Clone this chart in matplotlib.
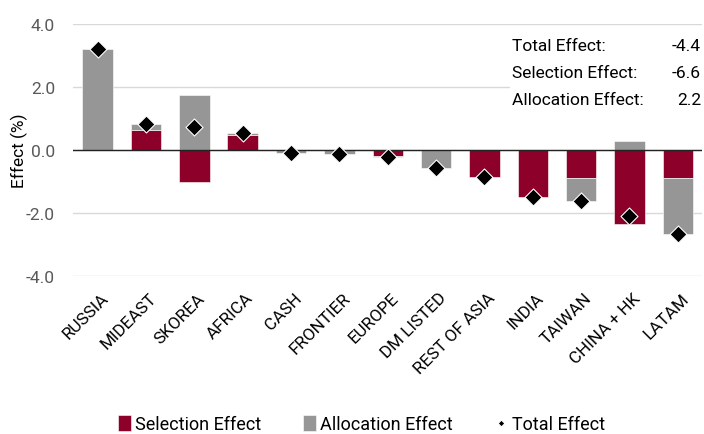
import numpy as np
import matplotlib.pyplot as plt
import matplotlib.transforms as mtransforms

# --- data ---
regions = ["RUSSIA", "MIDEAST", "SKOREA", "AFRICA", "CASH", "FRONTIER", "EUROPE",
           "DM LISTED", "REST OF ASIA", "INDIA", "TAIWAN", "CHINA + HK", "LATAM"]
selection = [0.0, 0.64, -1.02, 0.48, 0.0, 0.0, -0.19, 0.0, -0.87, -1.48, -0.90, -2.36, -0.90]
allocation = [3.20, 0.17, 1.75, 0.06, -0.08, -0.14, -0.02, -0.58, 0.0, 0.0, -0.71, 0.28, -1.78]
total = [3.20, 0.81, 0.73, 0.54, -0.08, -0.14, -0.21, -0.58, -0.87, -1.48, -1.61, -2.08, -2.68]
summary_labels = ["Total Effect:", "Selection Effect:", "Allocation Effect:"]
summary_values = ["-4.4", "-6.6", "2.2"]

SEL_COLOR = "#8c0029"
ALLOC_COLOR = "#969696"

plt.rcParams['font.family'] = ['Roboto', 'DejaVu Sans']

fig = plt.figure(figsize=(7.04, 4.35), dpi=100)
ax = fig.add_axes([73 / 704, (435 - 277) / 435, (702 - 73) / 704, 252 / 435])

x = np.arange(len(regions))
sel = np.array(selection)
alloc = np.array(allocation)

# stack allocation on top of selection when both share a sign
base = np.where(np.sign(alloc) == np.sign(sel), sel, 0.0)

b1 = ax.bar(x, sel, width=0.63, color=SEL_COLOR, edgecolor="white", linewidth=0.4,
            label="Selection Effect", zorder=2)
b2 = ax.bar(x, alloc, width=0.63, bottom=base, color=ALLOC_COLOR, edgecolor="white",
            linewidth=0.4, label="Allocation Effect", zorder=2)
sc = ax.scatter(x, total, marker="D", s=75, color="black", edgecolor="white",
                linewidth=0.8, label="Total Effect", zorder=4)

ax.axhline(0, color="#222222", linewidth=1.0, zorder=3)

ax.set_ylim(-4, 4)
ax.set_xlim(-0.51, 12.5)
ax.set_yticks([-4, -2, 0, 2, 4])
ax.set_yticklabels([f"{v:.1f}" for v in [-4, -2, 0, 2, 4]])
ax.grid(axis="y", color="#d9d9d9", linewidth=1.0, zorder=0)
ax.set_axisbelow(True)
for s in ax.spines.values():
    s.set_visible(False)
ax.tick_params(axis="y", length=0, labelsize=12.5, labelcolor="#595959", pad=13)
ax.tick_params(axis="x", length=0, pad=10)
ax.set_xticks(x)
ax.set_xticklabels(regions, rotation=45, ha="right", rotation_mode="anchor",
                   fontsize=12.3, color="black")
shift = mtransforms.ScaledTranslation(3 / 100, 0, fig.dpi_scale_trans)
for lbl in ax.get_xticklabels():
    lbl.set_transform(lbl.get_transform() + shift)
ax.set_ylabel("Effect (%)", fontsize=12.5, color="black")
ax.yaxis.set_label_coords(-0.072, 0.5)

# summary box
ax.add_patch(plt.Rectangle(((510 - 73) / 629, 1 - (112 - 25) / 252), (704 - 510) / 629,
                           (112 - 36) / 252, transform=ax.transAxes, clip_on=False,
                           facecolor="white", edgecolor="none", zorder=5))
for i, (lab, val) in enumerate(zip(summary_labels, summary_values)):
    yy = 1 - (47 - 25 + i * 26.7) / 252
    ax.text((512 - 73) / 629, yy, lab, transform=ax.transAxes, fontsize=12.5,
            va="center", ha="left", zorder=6)
    ax.text((701 - 73) / 629, yy, val, transform=ax.transAxes, fontsize=12.5,
            va="center", ha="right", zorder=6)

fig.legend([b1, b2, sc], ["Selection Effect", "Allocation Effect", "Total Effect"],
           loc="center", bbox_to_anchor=(0.5135, 1 - 425 / 435), ncol=3,
           frameon=False, fontsize=13, handlelength=0.7, handleheight=1.0,
           handletextpad=0.25, columnspacing=2.3, markerscale=0.4)

plt.savefig("out.png", dpi=100)
